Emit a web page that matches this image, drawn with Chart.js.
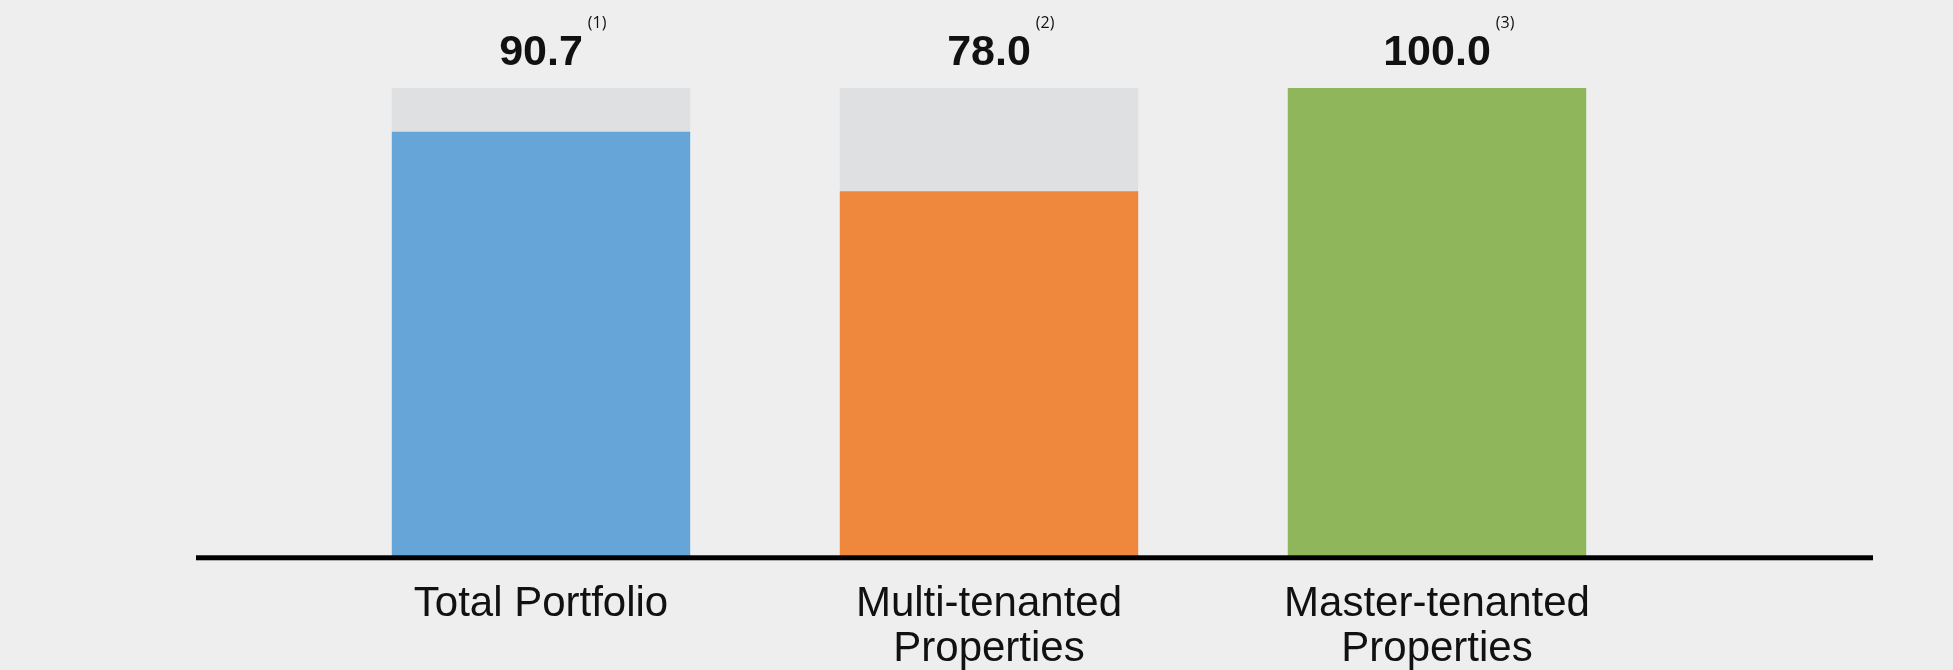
<!DOCTYPE html>
<html>
<head>
<meta charset="utf-8">
<script src="https://cdn.jsdelivr.net/npm/chart.js@4/dist/chart.umd.min.js"></script>
<style>
  html,body{ margin:0; padding:0; background:#EEEEEE; }
  #wrap{ width:1953px; height:670px; position:relative; }
</style>
</head>
<body>
<div id="wrap"><canvas id="chartOcc"></canvas></div>
<script>
const categories = [["Total Portfolio"], ["Multi-tenanted","Properties"], ["Master-tenanted","Properties"]];
const occupancy = [90.7, 78.0, 100.0];
const capacity = [100, 100, 100];
const notes = ["(1)", "(2)", "(3)"];

const C = { blue:"#66A5D8", orange:"#EF873D", green:"#8FB65A", track:"#DEE0E2", ink:"#000000", bg:"#EEEEEE" };

// baseline that runs wider than the bars, plus value labels with footnote marks
const decor = {
  id:"decor",
  afterDatasetsDraw(chart){
    const ctx = chart.ctx;
    const y = chart.scales.y;
    const x = chart.scales.x;
    const y0 = y.getPixelForValue(0);
    ctx.save();
    ctx.fillStyle = C.ink;
    ctx.fillRect(196, y0 - 2, 1873 - 196, 5);

    const top = y.getPixelForValue(100);
    occupancy.forEach((v, i) => {
      const cx = x.getPixelForValue(i);
      const txt = v.toFixed(1);
      ctx.font = "bold 43px 'Liberation Sans', Arial, sans-serif";
      ctx.textAlign = "center";
      ctx.textBaseline = "alphabetic";
      ctx.fillStyle = "#111111";
      ctx.fillText(txt, cx, top - 23);
      const w = ctx.measureText(txt).width;
      ctx.font = "16px 'Open Sans', sans-serif";
      ctx.textAlign = "left";
      ctx.fillText(notes[i], cx + w / 2 + 5, top - 60);
    });
    ctx.restore();
  }
};

new Chart(document.getElementById("chartOcc"), {
  type:"bar",
  data:{
    labels:categories,
    datasets:[
      { label:"Occupancy", data:occupancy, backgroundColor:[C.blue, C.orange, C.green], grouped:false, order:0,
        categoryPercentage:1, barPercentage:0.666, borderWidth:0 },
      { label:"Capacity", data:capacity, backgroundColor:C.track, grouped:false, order:1,
        categoryPercentage:1, barPercentage:0.666, borderWidth:0 }
    ]
  },
  options:{
    responsive:true, maintainAspectRatio:false, animation:false,
    layout:{ padding:{ left:317, right:292, top:88, bottom:-26 } },
    plugins:{ legend:{ display:false }, tooltip:{ enabled:false } },
    scales:{
      x:{
        grid:{ display:false, drawTicks:false },
        border:{ display:false },
        ticks:{ color:"#111111", padding:24, font:{ family:"'Liberation Sans', Arial, sans-serif", size:42, lineHeight:1.08 } }
      },
      y:{ display:false, min:0, max:100 }
    }
  },
  plugins:[decor]
});
</script>
</body>
</html>
